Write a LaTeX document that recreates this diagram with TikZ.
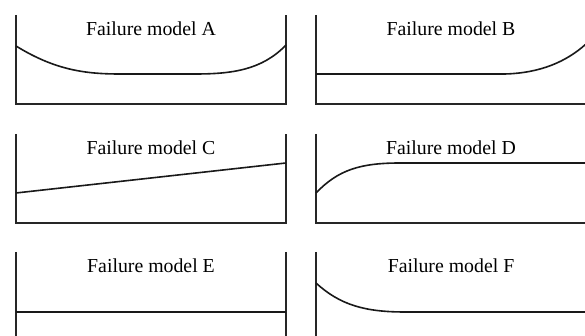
\documentclass[tikz,border=0pt]{standalone}
\usepackage{fontspec}
\setmainfont{Liberation Serif}
\usetikzlibrary{positioning}

\begin{document}
\begin{tikzpicture}[x=0.5pt,y=-0.5pt,
    axes/.style={draw=black!85,line width=0.8pt},
    curve/.style={draw=black!90,line width=0.8pt},
    title/.style={anchor=base,font=\fontsize{9.9}{12}\selectfont}]
    \useasboundingbox (0,0) rectangle (585,336);

    % left column
    \draw[axes] (16,15) -- (16,104) -- (286,104) -- (286,15);
    \draw[axes] (16,134) -- (16,223) -- (286,223) -- (286,134);
    \draw[axes] (16,252) -- (16,336);
    \draw[axes] (286,252) -- (286,336);
    % right column
    \draw[axes] (316,15) -- (316,104) -- (585,104);
    \draw[axes] (316,134) -- (316,223) -- (585,223);
    \draw[axes] (316,252) -- (316,336);

    \node (titleA) [title] at (151,36) {Failure model A};
    \node (titleB) [title] at (451,36) {Failure model B};
    \node (titleC) [title] at (151,155) {Failure model C};
    \node (titleD) [title] at (451,155) {Failure model D};
    \node (titleE) [title] at (151,273) {Failure model E};
    \node (titleF) [title] at (451,273) {Failure model F};

    % curves
    \draw[curve] (16,46) .. controls (55,70) and (85,74) .. (120,74)
        -- (195,74) .. controls (232,74) and (262,70) .. (286,45);
    \draw[curve] (316,74) -- (505,74) .. controls (540,73) and (566,62) .. (586,44);
    \draw[curve] (16,193) -- (286,163);
    \draw[curve] (316,193) .. controls (338,170) and (360,163) .. (400,163) -- (585,163);
    \draw[curve] (16,312) -- (286,312);
    \draw[curve] (316,283) .. controls (340,305) and (365,312) .. (405,312) -- (585,312);
\end{tikzpicture}
\end{document}
